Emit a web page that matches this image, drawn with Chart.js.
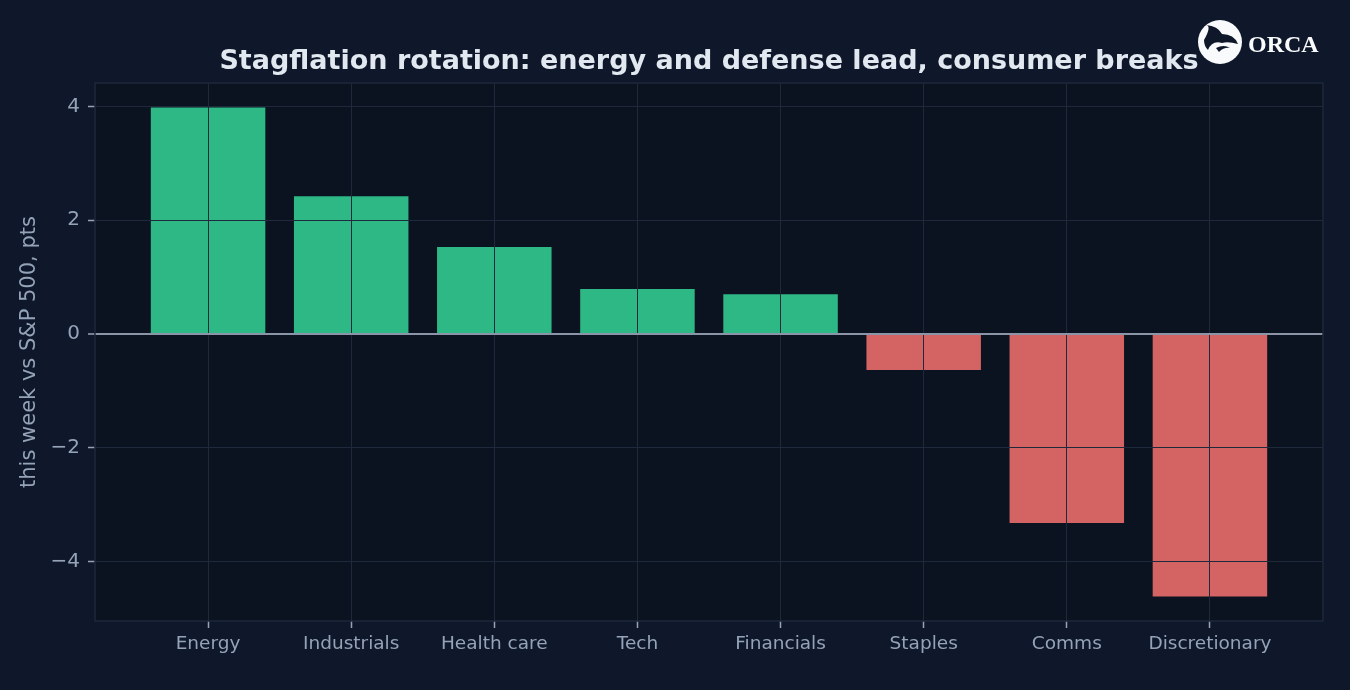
<!DOCTYPE html>
<html>
<head>
<meta charset="utf-8">
<script src="https://cdn.jsdelivr.net/npm/chart.js@4.4.1/dist/chart.umd.min.js"></script>
<style>
  html, body { margin: 0; padding: 0; background: #0f172a; }
  #wrap { position: relative; width: 1350px; height: 690px; }
</style>
</head>
<body>
<div id="wrap"><canvas id="myChart" width="1350" height="690"></canvas></div>
<script>
// sector performance this week relative to S&P 500 (pts)
const sectors = ["Energy", "Industrials", "Health care", "Tech", "Financials", "Staples", "Comms", "Discretionary"];
const relPerf = [3.98, 2.42, 1.53, 0.79, 0.70, -0.63, -3.32, -4.61];
const yTicks = [-4, -2, 0, 2, 4];

const chartTitle = "Stagflation rotation: energy and defense lead, consumer breaks";
const yLabel = "this week vs S&P 500, pts";

const upColor = "#2eb886";
const downColor = "#d46363";
const gridColor = "#1e293b";
const textColor = "#94a3b8";

// matplotlib-style auto margins (5% of data span)
const lo = Math.min(0, ...relPerf), hi = Math.max(0, ...relPerf);
const pad = (hi - lo) * 0.05;

const bgPlugin = {
  id: "bg",
  beforeDraw(chart) {
    const { ctx, chartArea: a } = chart;
    ctx.save();
    ctx.fillStyle = "#0f172a";
    ctx.fillRect(0, 0, chart.width, chart.height);
    ctx.fillStyle = "#0b1220";
    ctx.fillRect(a.left, a.top, a.right - a.left, a.bottom - a.top);
    ctx.restore();
  },
  afterDraw(chart) {
    const { ctx, chartArea: a } = chart;
    ctx.save();
    // spines
    ctx.strokeStyle = gridColor;
    ctx.lineWidth = 1.5;
    ctx.strokeRect(a.left, a.top, a.right - a.left, a.bottom - a.top);
    // title centred over the plot area
    ctx.fillStyle = "#e2e8f0";
    ctx.font = "bold 27px 'DejaVu Sans'";
    ctx.textAlign = "center";
    ctx.textBaseline = "middle";
    ctx.fillText(chartTitle, (a.left + a.right) / 2, 62);
    // logo
    const cx = 1220, cy = 42, r = 22;
    ctx.fillStyle = "#f8fafc";
    ctx.beginPath();
    ctx.arc(cx, cy, r, 0, Math.PI * 2);
    ctx.fill();
    ctx.fillStyle = "#0f172a";
    ctx.beginPath();
    ctx.moveTo(cx - 16, cy - 2);
    ctx.quadraticCurveTo(cx - 8, cy - 16, cx - 14, cy - 17);
    ctx.quadraticCurveTo(cx - 2, cy - 16, cx + 2, cy - 8);
    ctx.quadraticCurveTo(cx + 14, cy - 8, cx + 18, cy + 2);
    ctx.quadraticCurveTo(cx + 8, cy - 1, cx + 2, cy + 1);
    ctx.quadraticCurveTo(cx - 8, cy - 2, cx - 12, cy + 8);
    ctx.quadraticCurveTo(cx - 16, cy + 4, cx - 16, cy - 2);
    ctx.fill();
    ctx.beginPath();
    ctx.moveTo(cx - 4, cy + 6);
    ctx.quadraticCurveTo(cx + 4, cy + 2, cx + 10, cy + 6);
    ctx.quadraticCurveTo(cx + 4, cy + 5, cx - 1, cy + 10);
    ctx.closePath();
    ctx.fill();
    ctx.fillStyle = "#f8fafc";
    ctx.font = "bold 24px 'Liberation Serif'";
    ctx.textAlign = "left";
    ctx.textBaseline = "alphabetic";
    ctx.fillText("ORCA", 1248, 52);
    ctx.restore();
  }
};

new Chart("myChart", {
  type: "bar",
  data: {
    datasets: [{
      data: relPerf.map((v, i) => ({ x: i, y: v })),
      backgroundColor: relPerf.map(v => v >= 0 ? upColor : downColor),
      borderWidth: 0,
      categoryPercentage: 0.8,
      barPercentage: 1.0
    }]
  },
  options: {
    responsive: false,
    animation: false,
    layout: { padding: { top: 83, right: 27, bottom: 0, left: 0 } },
    plugins: {
      legend: { display: false },
      tooltip: { enabled: false }
    },
    scales: {
      x: {
        type: "linear",
        offset: false,
        min: -0.79,
        max: sectors.length - 1 + 0.79,
        afterFit(scale) { scale.height = 69; },
        afterBuildTicks(scale) {
          scale.ticks = sectors.map((s, i) => ({ value: i }));
        },
        ticks: {
          includeBounds: false,
          color: textColor,
          font: { family: "'DejaVu Sans'", size: 18.5 },
          padding: 5,
          maxRotation: 0,
          autoSkip: false,
          callback: v => sectors[v]
        },
        grid: {
          z: 1,
          offset: false,
          color: gridColor,
          lineWidth: 1,
          drawTicks: true,
          tickLength: 7,
          tickColor: textColor,
          tickWidth: 1.5
        },
        border: { display: false }
      },
      y: {
        min: lo - pad,
        max: hi + pad,
        afterFit(scale) { scale.width = 95; },
        afterBuildTicks(scale) {
          scale.ticks = yTicks.map(v => ({ value: v }));
        },
        ticks: {
          color: textColor,
          font: { family: "'DejaVu Sans'", size: 20 },
          padding: 8,
          callback: v => v < 0 ? "\u2212" + Math.abs(v) : String(v)
        },
        grid: {
          z: 1,
          color: ctx => ctx.tick && ctx.tick.value === 0 ? "#8b95a7" : gridColor,
          lineWidth: ctx => ctx.tick && ctx.tick.value === 0 ? 2 : 1,
          drawTicks: true,
          tickLength: 7,
          tickColor: textColor,
          tickWidth: 1.5
        },
        border: { display: false },
        title: {
          display: true,
          text: yLabel,
          color: textColor,
          font: { family: "'DejaVu Sans'", size: 21 },
          padding: { top: 17, bottom: 0 }
        }
      }
    }
  },
  plugins: [bgPlugin]
});
</script>
</body>
</html>
